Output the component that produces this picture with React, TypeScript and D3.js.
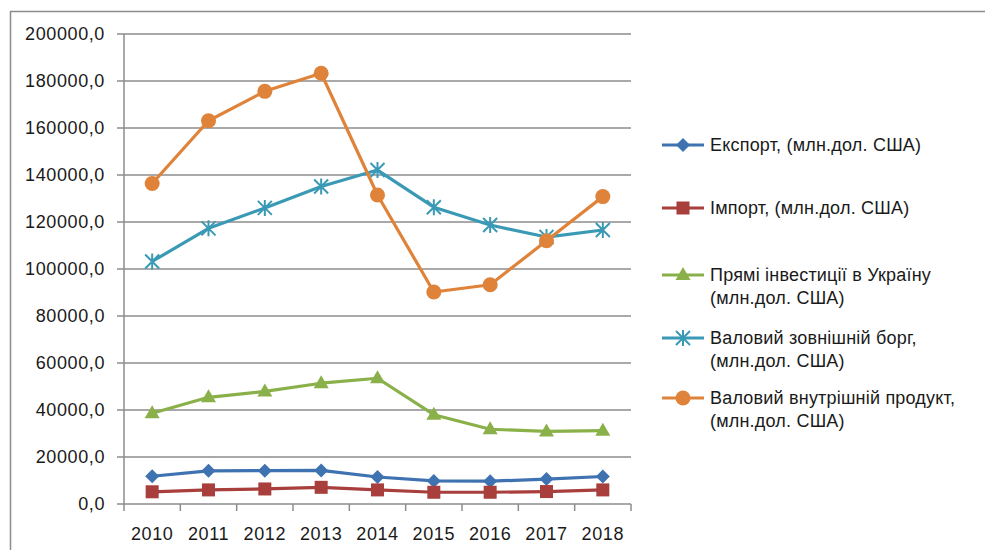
import React, { useEffect, useRef } from 'react';
import * as d3 from 'd3';

const years = ['2010', '2011', '2012', '2013', '2014', '2015', '2016', '2017', '2018'];
const exportVals = [11800, 14100, 14200, 14300, 11500, 9800, 9700, 10600, 11700];
const importVals = [5200, 6000, 6400, 7100, 6000, 5000, 5000, 5300, 6000];
const fdiVals = [38600, 45400, 47900, 51400, 53500, 38000, 31800, 30900, 31200];
const debtVals = [103200, 117300, 126000, 135100, 142100, 126300, 118700, 113600, 116600];
const gdpVals = [136400, 163100, 175600, 183300, 131500, 90200, 93300, 112000, 130800];
const yTicks = [0, 20000, 40000, 60000, 80000, 100000, 120000, 140000, 160000, 180000, 200000];

const seriesNames = [
  ['Експорт, (млн.дол. США)'],
  ['Імпорт, (млн.дол. США)'],
  ['Прямі інвестиції в Україну', '(млн.дол. США)'],
  ['Валовий зовнішній борг,', '(млн.дол. США)'],
  ['Валовий внутрішній продукт,', '(млн.дол. США)'],
];
const seriesColors = ['#3F72B0', '#A83F3C', '#8AB04A', '#3A9AB5', '#E0833A'];
const seriesMarkers = ['diamond', 'square', 'triangle', 'star', 'circle'];
const seriesValues = [exportVals, importVals, fdiVals, debtVals, gdpVals];

const FONT = '"Liberation Sans", Arial, sans-serif';

function drawMarker(g: any, kind: string, x: number, y: number, color: string) {
  if (kind === 'diamond') {
    g.append('path').attr('d', `M${x},${y - 7}L${x + 7},${y}L${x},${y + 7}L${x - 7},${y}Z`).attr('fill', color);
  } else if (kind === 'square') {
    g.append('rect').attr('x', x - 6.5).attr('y', y - 6.5).attr('width', 13).attr('height', 13).attr('fill', color);
  } else if (kind === 'triangle') {
    g.append('path').attr('d', `M${x},${y - 8}L${x + 7.5},${y + 5}L${x - 7.5},${y + 5}Z`).attr('fill', color);
  } else if (kind === 'circle') {
    g.append('circle').attr('cx', x).attr('cy', y).attr('r', 7.5).attr('fill', color);
  } else {
    const s = 7;
    g.append('path')
      .attr('d', `M${x - s},${y - s}L${x + s},${y + s}M${x - s},${y + s}L${x + s},${y - s}M${x},${y - s - 1}L${x},${y + s + 1}`)
      .attr('stroke', color).attr('stroke-width', 2).attr('fill', 'none');
  }
}

export default function App() {
  const ref = useRef<SVGSVGElement>(null);

  useEffect(() => {
    const svg = d3.select(ref.current);
    svg.selectAll('*').remove();

    // chart frame
    svg.append('rect')
      .attr('x', 10.5).attr('y', 11.5).attr('width', 1000).attr('height', 600)
      .attr('fill', '#fff').attr('stroke', '#8c8c8c').attr('stroke-width', 1.5);

    const left = 124, right = 631, top = 34, bottom = 504;
    const x = d3.scaleBand().domain(years).range([left, right]);
    const y = d3.scaleLinear().domain([0, 200000]).range([bottom, top]);

    // grid
    svg.append('g').selectAll('line').data(yTicks).enter().append('line')
      .attr('x1', left - 7).attr('x2', right)
      .attr('y1', d => y(d)).attr('y2', d => y(d))
      .attr('stroke', '#8c8c8c').attr('stroke-width', 1.5);

    // axes lines
    svg.append('line').attr('x1', left).attr('x2', left).attr('y1', top).attr('y2', bottom)
      .attr('stroke', '#8c8c8c').attr('stroke-width', 1.5);
    const xTickPos = years.map(d => x(d) as number).concat([right]);
    svg.append('g').selectAll('line').data(xTickPos).enter().append('line')
      .attr('x1', d => d).attr('x2', d => d).attr('y1', bottom).attr('y2', bottom + 7)
      .attr('stroke', '#8c8c8c').attr('stroke-width', 1.5);

    // y labels
    const fmt = (v: number) => d3.format('.1f')(v).replace('.', ',');
    svg.append('g').selectAll('text').data(yTicks).enter().append('text')
      .attr('x', 105).attr('y', d => y(d)).attr('dy', '0.36em')
      .attr('text-anchor', 'end').attr('font-family', FONT).attr('font-size', 18)
      .attr('letter-spacing', 0.6).attr('fill', '#1a1a1a')
      .text(d => fmt(d));

    // x labels
    svg.append('g').selectAll('text').data(years).enter().append('text')
      .attr('x', d => (x(d) as number) + x.bandwidth() / 2).attr('y', 540)
      .attr('text-anchor', 'middle').attr('font-family', FONT).attr('font-size', 18)
      .attr('letter-spacing', 0.6).attr('fill', '#1a1a1a')
      .text(d => d);

    const cx = (d: string) => (x(d) as number) + x.bandwidth() / 2;
    const line = d3.line<number>().x((_, i) => cx(years[i])).y(d => y(d));

    seriesValues.forEach((vals, si) => {
      const g = svg.append('g');
      g.append('path').attr('d', line(vals) as string)
        .attr('fill', 'none').attr('stroke', seriesColors[si]).attr('stroke-width', 3.2)
        .attr('stroke-linejoin', 'round');
      vals.forEach((v, i) => drawMarker(g, seriesMarkers[si], cx(years[i]), y(v), seriesColors[si]));
    });

    // legend
    const legendY = [145, 208, 275, 338, 398];
    seriesNames.forEach((lines, si) => {
      const g = svg.append('g');
      const ly = legendY[si];
      g.append('line').attr('x1', 662).attr('x2', 704).attr('y1', ly).attr('y2', ly)
        .attr('stroke', seriesColors[si]).attr('stroke-width', 3.2);
      drawMarker(g, seriesMarkers[si], 683, ly, seriesColors[si]);
      lines.forEach((t, li) => {
        g.append('text').attr('x', 710).attr('y', ly + li * 23).attr('dy', '0.36em')
          .attr('font-family', FONT).attr('font-size', 18).attr('letter-spacing', 0.2)
          .attr('fill', '#1a1a1a').text(t);
      });
    });
  }, []);

  return (
    <svg ref={ref} width={985} height={550} style={{ position: 'absolute', left: 0, top: 0 }} />
  );
}
